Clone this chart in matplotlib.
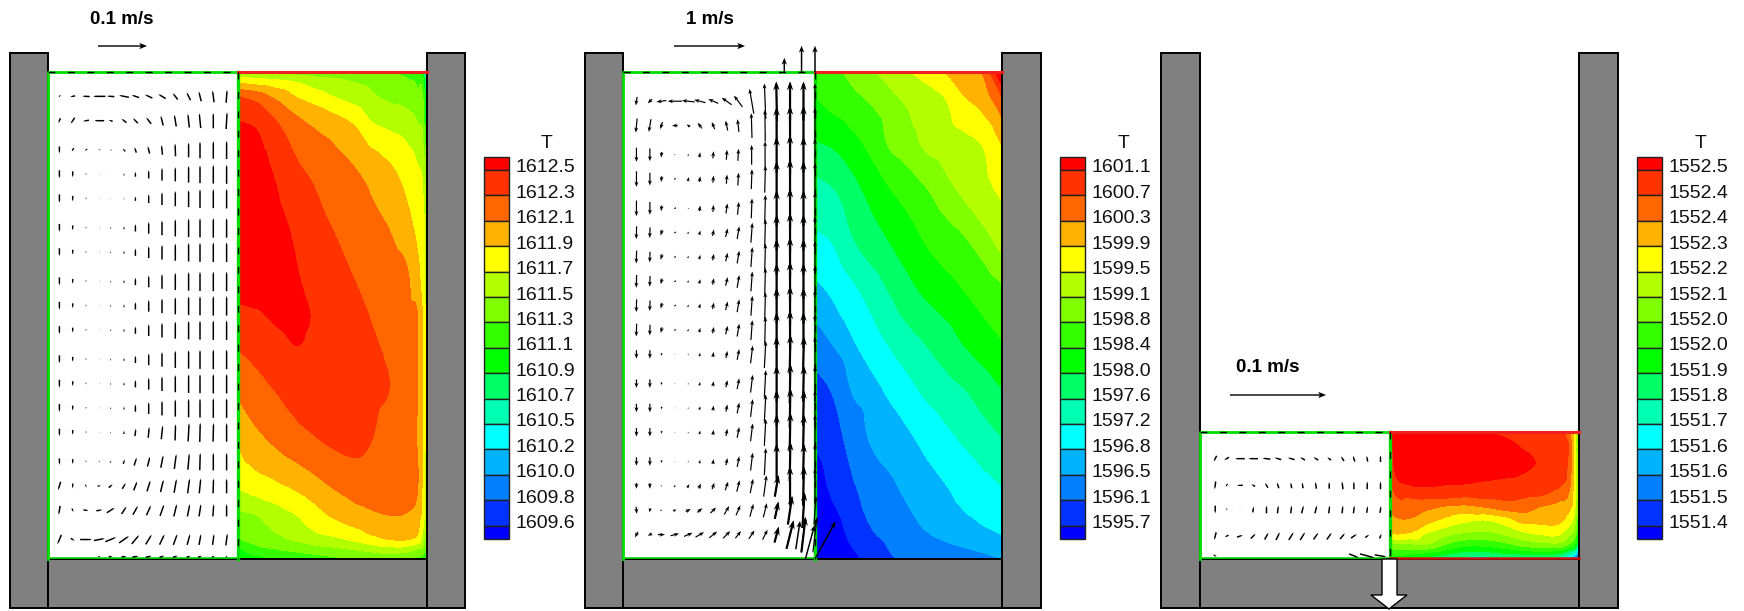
import numpy as np
import matplotlib
matplotlib.use('Agg')
import matplotlib.pyplot as plt
import matplotlib.tri as mtri
from matplotlib.patches import Polygon, Rectangle

plt.rcParams['font.family'] = ['Liberation Sans', 'DejaVu Sans']

# Colour bands, coldest first
band_colors = ['#0000ff', '#0033ff', '#0080ff', '#00b3ff', '#00ffff', '#00ffb3',
               '#00ff66', '#00ff00', '#33ff00', '#80ff00', '#b3ff00', '#ffff00',
               '#ffb300', '#ff6600', '#ff3300', '#ff0000']

# Legend labels, top to bottom
labels_1 = ['1612.5', '1612.3', '1612.1', '1611.9', '1611.7', '1611.5', '1611.3', '1611.1',
            '1610.9', '1610.7', '1610.5', '1610.2', '1610.0', '1609.8', '1609.6']
labels_2 = ['1601.1', '1600.7', '1600.3', '1599.9', '1599.5', '1599.1', '1598.8', '1598.4',
            '1598.0', '1597.6', '1597.2', '1596.8', '1596.5', '1596.1', '1595.7']
labels_3 = ['1552.5', '1552.4', '1552.4', '1552.3', '1552.2', '1552.1', '1552.0', '1552.0',
            '1551.9', '1551.8', '1551.7', '1551.6', '1551.6', '1551.5', '1551.4']

# Contour levels, ascending (the labels above are these, rounded)
levels_1 = [1609.6, 1609.8, 1610.0, 1610.2, 1610.5, 1610.7, 1610.9, 1611.1,
            1611.3, 1611.5, 1611.7, 1611.9, 1612.1, 1612.3, 1612.5]
levels_2 = [1595.7, 1596.1, 1596.5, 1596.8, 1597.2, 1597.6, 1598.0, 1598.4,
            1598.8, 1599.1, 1599.5, 1599.9, 1600.3, 1600.7, 1601.1]
levels_3 = [1551.40, 1551.48, 1551.56, 1551.64, 1551.71, 1551.79, 1551.87, 1551.95,
            1552.03, 1552.11, 1552.19, 1552.27, 1552.35, 1552.42, 1552.50]

# Temperature read off the right half of each panel
# columns: 0 = centre line, 1 = wall. rows: 1 = top, 0 = bottom
t1_cols = [0, .1, .2, .3, .4, .5, .6, .7, .8, .9, .95, .985, 1]
t1_rows = [1, .98, .95, .90, .80, .70, .60, .50, .44, .35, .25, .15, .09, .04, .015, 0]
t1 = 1600 + np.array([
    [11.5, 11.5, 11.5, 11.4, 11.4, 11.4, 11.4, 11.3, 11.3, 11.2, 11.1, 10.7, 9.8],
    [11.85, 11.8, 11.75, 11.7, 11.6, 11.55, 11.5, 11.45, 11.4, 11.33, 11.25, 11.0, 10.0],
    [12.3, 12.2, 12.05, 11.9, 11.8, 11.7, 11.62, 11.53, 11.46, 11.41, 11.33, 11.15, 10.3],
    [12.5, 12.45, 12.3, 12.15, 12.05, 11.97, 11.88, 11.7, 11.63, 11.57, 11.48, 11.25, 10.5],
    [12.62, 12.58, 12.47, 12.34, 12.26, 12.19, 12.12, 12.03, 11.93, 11.8, 11.72, 11.55, 11.1],
    [12.65, 12.62, 12.54, 12.46, 12.35, 12.28, 12.22, 12.14, 12.07, 11.93, 11.82, 11.7, 11.4],
    [12.62, 12.6, 12.56, 12.51, 12.43, 12.36, 12.29, 12.24, 12.18, 12.09, 11.93, 11.75, 11.45],
    [12.45, 12.48, 12.52, 12.53, 12.49, 12.42, 12.36, 12.295, 12.25, 12.15, 12.1, 11.78, 11.5],
    [12.32, 12.38, 12.45, 12.5, 12.47, 12.42, 12.37, 12.32, 12.27, 12.17, 12.1, 11.78, 11.5],
    [12.14, 12.23, 12.31, 12.37, 12.41, 12.42, 12.4, 12.35, 12.3, 12.2, 12.1, 11.78, 11.5],
    [11.94, 12.06, 12.15, 12.23, 12.29, 12.34, 12.36, 12.31, 12.22, 12.16, 12.08, 11.78, 11.5],
    [11.72, 11.8, 11.86, 11.93, 12.02, 12.11, 12.17, 12.2, 12.2, 12.17, 12.11, 11.75, 11.45],
    [11.45, 11.5, 11.6, 11.69, 11.8, 11.92, 12.0, 12.06, 12.1, 12.08, 12.0, 11.72, 11.4],
    [11.28, 11.36, 11.44, 11.52, 11.6, 11.65, 11.72, 11.82, 11.9, 11.9, 11.82, 11.5, 11.2],
    [11.0, 11.2, 11.25, 11.3, 11.35, 11.4, 11.45, 11.5, 11.55, 11.5, 11.4, 11.3, 11.0],
    [10.9, 11.0, 11.1, 11.15, 11.2, 11.25, 11.3, 11.35, 11.35, 11.3, 11.25, 11.1, 10.8],
])

t2_cols = [0, .1, .2, .3, .4, .5, .6, .7, .8, .9, 1]
t2_rows = [1, .95, .85, .75, .65, .55, .45, .35, .25, .15, .05, 0]
t2 = 1500 + np.array([
    [98.5, 98.7, 98.9, 99.05, 99.25, 99.48, 99.7, 99.92, 100.12, 100.35, 101.6],
    [98.4, 98.58, 98.72, 98.86, 99.02, 99.18, 99.33, 99.53, 99.9, 100.12, 100.7],
    [97.95, 98.04, 98.25, 98.5, 98.83, 98.98, 99.15, 99.26, 99.38, 99.52, 99.9],
    [97.4, 97.55, 97.82, 98.1, 98.35, 98.55, 98.76, 98.97, 99.15, 99.35, 99.55],
    [97.1, 97.22, 97.55, 97.8, 98.0, 98.2, 98.43, 98.6, 98.75, 98.95, 99.2],
    [96.7, 96.87, 97.1, 97.35, 97.62, 97.88, 98.08, 98.23, 98.4, 98.57, 98.73],
    [96.35, 96.55, 96.78, 97.03, 97.26, 97.47, 97.65, 97.83, 98.05, 98.23, 98.4],
    [95.95, 96.15, 96.53, 96.68, 96.87, 97.09, 97.3, 97.46, 97.6, 97.8, 98.0],
    [95.75, 95.95, 96.25, 96.54, 96.65, 96.75, 96.92, 97.1, 97.27, 97.43, 97.6],
    [95.5, 95.8, 96.05, 96.27, 96.44, 96.58, 96.68, 96.79, 96.93, 97.07, 97.2],
    [95.3, 95.5, 95.8, 96.05, 96.2, 96.35, 96.48, 96.57, 96.65, 96.72, 96.8],
    [95.2, 95.4, 95.6, 95.8, 96.05, 96.15, 96.22, 96.28, 96.35, 96.42, 96.5],
])

t3_cols = [0, .02, .1, .2, .3, .4, .5, .6, .7, .8, .9, .95, .98, 1]
t3_rows = [1, .9, .75, .6, .5, .4, .3, .2, .1, .05, 0]
t3 = 1500 + np.array([
    [52.42, 52.55, 52.6, 52.6, 52.58, 52.54, 52.5, 52.48, 52.47, 52.46, 52.44, 52.37, 52.2, 52.0],
    [52.45, 52.52, 52.6, 52.62, 52.6, 52.58, 52.56, 52.53, 52.49, 52.47, 52.45, 52.4, 52.2, 52.0],
    [52.42, 52.5, 52.6, 52.63, 52.62, 52.6, 52.58, 52.56, 52.52, 52.49, 52.45, 52.39, 52.2, 52.0],
    [52.4, 52.46, 52.51, 52.52, 52.51, 52.505, 52.49, 52.48, 52.47, 52.46, 52.43, 52.37, 52.2, 52.0],
    [52.33, 52.40, 52.43, 52.44, 52.44, 52.43, 52.44, 52.44, 52.43, 52.42, 52.38, 52.33, 52.2, 52.0],
    [52.3, 52.37, 52.38, 52.36, 52.33, 52.32, 52.34, 52.37, 52.38, 52.34, 52.31, 52.28, 52.18, 51.95],
    [52.31, 52.33, 52.34, 52.29, 52.24, 52.2, 52.18, 52.22, 52.29, 52.29, 52.28, 52.22, 52.12, 51.9],
    [52.25, 52.27, 52.26, 52.18, 52.13, 52.1, 52.09, 52.12, 52.17, 52.2, 52.2, 52.12, 52.05, 51.85],
    [52.05, 52.06, 52.07, 52.08, 52.0, 51.95, 51.95, 51.98, 52.03, 52.05, 52.05, 51.98, 51.9, 51.7],
    [51.98, 52.0, 51.98, 51.95, 51.9, 51.85, 51.85, 51.88, 51.9, 51.92, 51.88, 51.78, 51.7, 51.5],
    [51.9, 51.9, 51.85, 51.82, 51.78, 51.74, 51.73, 51.75, 51.78, 51.78, 51.72, 51.6, 51.5, 51.3],
])

# Velocity in cm/s on the left half of each panel
v1_cols = [.06, .13, .2, .27, .33, .40, .46, .53, .60, .67, .74, .80, .87, .94]
v1_rows = [.95, .90, .84, .79, .74, .68, .63, .57, .52, .47, .41, .36, .31, .26, .20, .15, .10, .04, .005]
v1_zero = [0] * 14
vx1 = [
    [-.4, -1, -1.5, -2.5, -1.5, -2, -1.5, -1.5, -1.5, -1, -.8, -.5, -.3, .2],
    [-.4, -.8, -1.2, -2, -.8, -1, -1, -1, -.5, -.4, -.3, -.3, 0, .2],
    [0, -.4, -.5, -.4, -.3, -.5, -.4, -.4, -.2, -.1, 0, 0, 0, 0],
    v1_zero, v1_zero, v1_zero, v1_zero, v1_zero, v1_zero, v1_zero, v1_zero, v1_zero, v1_zero,
    [0, 0, 0, 0, .1, .1, .2, .2, .3, .1, .2, .1, .1, 0],
    [0, 0, .1, .2, .3, .3, .5, .5, .5, .4, .3, .1, 0, 0],
    [-.5, 0, .3, .7, .8, .7, .7, .7, .6, .5, .4, .3, .1, 0],
    [-.3, .3, 1, 1.2, 1.6, 1, 1, .9, .8, .6, .5, .4, .2, 0],
    [-.8, .8, 2.4, 2.2, 2.2, 2, 1.5, 1.2, 1, .8, .6, .4, .3, .3],
    [0, 0, 0, .5, .8, 1, 1.2, 1.2, 1, 1, .8, .8, .6, .4],
]
v1_mid = [-1.6, -1, -.4, -.2, .4, .6, 1.5, 2.4, 3, 3.5, 3.8, 3.9, 4, 4]
vy1 = [
    [-.4, -.2, .1, 0, .1, .4, .5, .7, .9, 1.3, 1.6, 2, 2.4, 2.6],
    [-1, -1.2, -.2, 0, .3, .8, 1, 1.3, 2, 2.4, 2.8, 3, 3.1, 3.4],
    [-1.4, -.7, -.4, -.1, .2, .6, 1.1, 1.5, 2, 2.6, 3, 3.4, 3.6, 3.7],
    [-1.6, -1.2, -.4, -.2, -.1, .5, 1, 1.7, 2.6, 2.9, 3.4, 3.6, 3.8, 3.9],
    [-1.7, -1.1, -.4, -.2, -.2, .3, .9, 1.8, 2.6, 3.1, 3.5, 3.8, 3.9, 4],
    v1_mid, v1_mid, v1_mid, v1_mid, v1_mid, v1_mid, v1_mid, v1_mid,
    [-1.5, -1, -.4, -.2, .3, .7, 1.5, 2.2, 2.8, 3.3, 3.7, 3.9, 3.8, 3.8],
    [-1.3, -1, -.4, -.3, .4, .9, 1.6, 2, 2.5, 3, 3.3, 3.5, 3.6, 3.6],
    [-1.7, -1, -.5, .1, .7, 1.2, 1.8, 2.2, 2.5, 2.8, 3, 3, 3, 3],
    [-1.8, -.7, -.2, .2, 1, 1.5, 1.8, 2, 2.3, 2.5, 2.5, 2.5, 2.5, 2.5],
    [-1.9, -.5, 0, .4, .9, 1.4, 1.8, 2, 2.1, 2.2, 2.2, 2.2, 2.2, 2.4],
    [0, 0, 0, 0, 0, .1, .2, .3, .3, .3, .3, .3, .3, .3],
]

v2_cols = [.07, .14, .20, .27, .34, .40, .47, .54, .60, .67, .74, .80, .87, .94, 1.0]
v2_rows = [.94, .89, .83, .78, .72, .67, .62, .57, .52, .47, .42, .36, .31, .26, .20, .15, .10, .05]
v2_mid_x = [-.5, -.5, -2, -3, 2, 2, 2, 3, 3, 2, 1, 0, 0, 0, 0]
v2_low_x = [0, 0, -1, -1, 1, 1, 1, 2, 3, 3, 2, 0, 1, 1, 0]
vx2 = [
    [-2, -6, -14, -20, -18, -16, -14, -14, -12, -6, -2, -1, 0, 0, 0],
    [-2, -3, -3, -8, -5, -6, -4, -3, -2, -1, -.5, 0, 0, 0, 0],
    [0, 0, -1, 0, 1, 1, 1, 1, 1, 0, 0, 0, 0, 0, 0],
    [0, 0, -1, -2, 1, 1, 1, 1, 1, 1, 1, 0, 0, 0, 0],
    [0, 0, -1, -3, -2, 1, 1, 2, 2, 1, 1, 0, 0, 0, 0],
    v2_mid_x, v2_mid_x, v2_mid_x, v2_mid_x, v2_mid_x,
    v2_low_x, v2_low_x, v2_low_x, v2_low_x, v2_low_x,
    [0, 0, 1, 2, 3, 3, 3, 4, 4, 4, 4, 5, 0, 1, 0],
    [1, -1, 3, 5, 7, 7, 8, 7, 6, 5, 5, 5, 6, 3, 3],
    [-4, -6, 10, 12, 12, 12, 11, 10, 8, 8, 7, 6, 10, 6, 6],
]
v2_mid_y = [-18, -15, -8, -2, 3, 6, 9, 12, 18, 28, 38, 50, 55, 50, 45]
v2_low_y = [-12, -12, -4, -1, 2, 5, 7, 10, 15, 25, 38, 50, 55, 50, 50]
vy2 = [
    [-12, -6, -2, 0, 2, 4, 6, 10, 16, 35, 50, 55, 55, 55, 50],
    [-20, -18, -10, 0, 3, 8, 10, 14, 18, 35, 45, 52, 55, 55, 50],
    [-20, -18, -8, -2, 3, 7, 10, 14, 17, 28, 38, 50, 55, 50, 45],
    [-22, -18, -8, -3, 6, 8, 10, 13, 18, 28, 38, 50, 55, 50, 45],
    [-22, -18, -8, -2, 0, 8, 10, 14, 18, 28, 38, 50, 55, 50, 45],
    v2_mid_y, v2_mid_y, v2_mid_y, v2_mid_y, v2_mid_y,
    v2_low_y, v2_low_y, v2_low_y, v2_low_y, v2_low_y,
    [-8, -8, -2, 3, 5, 7, 9, 12, 16, 20, 30, 30, 55, 55, 50],
    [-10, -6, 0, 2, 4, 6, 8, 12, 14, 18, 20, 24, 40, 50, 40],
    [-8, -3, 0, 3, 5, 7, 9, 10, 10, 12, 14, 22, 40, 50, 50],
]
# Strong arrows of panel 2 at the top and bottom of the jet (tail position, then velocity)
jet_col = [.84, .93, 1.0, .95, 1.0, .90]
jet_row = [1.0, 1.0, 1.0, 0.0, 0.0, .02]
jet_vx = [0, 0, 0, 13, 29, 6]
jet_vy = [20, 37, 37, 48, 53, 40]

v3_cols = [.08, .14, .21, .28, .35, .41, .48, .54, .61, .68, .75, .81, .88, .95]
v3_rows = [.79, .58, .39, .18, .025]
vx3 = [
    [-.3, -.5, -1, -1, -.8, -.7, -.7, -.5, -.5, -.4, -.3, -.2, -.1, 0],
    [-.1, -.2, -.6, -.4, -.3, -.2, -.1, -.1, -.1, 0, -.1, 0, 0, 0],
    [0, -.1, -.1, .1, 0, .1, .1, .2, .2, .1, .1, .1, .1, .1],
    [-.2, -.4, .6, .5, .4, .4, .5, .5, .5, .5, .5, .6, .4, .2],
    [.3, 0, 0, 0, 0, 0, 0, 0, 0, 0, 0, 1, 1.5, 1.2],
]
vy3 = [
    [-.6, -.3, 0, 0, .1, .2, .2, .3, .3, .3, .5, .6, .6, .7],
    [-.8, -.3, 0, .2, .5, .6, .6, .6, .7, .7, .8, .8, .8, .8],
    [-.8, -.2, 0, .6, .8, .8, .8, .8, .8, .8, .8, .8, .7, .7],
    [-.8, -.2, .2, .5, .7, .8, .8, .8, .7, .7, .6, .4, .3, .5],
    [-.2, 0, 0, 0, 0, 0, 0, 0, 0, 0, 0, -.4, -.4, -.2],
]

# Panel geometry in image pixels
W, H = 1744, 611
panels = [
    dict(wall_l=10, inner_l=48, mid=238, inner_r=427, wall_r=465, top=72, bar_x=484,
         t_x=547, t=t1, t_cols=t1_cols, t_rows=t1_rows, levels=levels_1, labels=labels_1,
         v_cols=v1_cols, v_rows=v1_rows, vx=vx1, vy=vy1, px_per_cm=4.9, head=1.6, width=1.5,
         thick=[], key=(98, 46, 10), key_text='0.1 m/s', key_label=(122, 20)),
    dict(wall_l=585, inner_l=623, mid=815, inner_r=1002, wall_r=1041, top=72, bar_x=1060,
         t_x=1124, t=t2, t_cols=t2_cols, t_rows=t2_rows, levels=levels_2, labels=labels_2,
         v_cols=v2_cols, v_rows=v2_rows, vx=vx2, vy=vy2, px_per_cm=.71, head=3.4, width=1.2,
         thick=[11, 12, 13], key=(674, 46, 100), key_text='1 m/s', key_label=(710, 20)),
    dict(wall_l=1161, inner_l=1200, mid=1390, inner_r=1579, wall_r=1618, top=432, bar_x=1637,
         t_x=1701, t=t3, t_cols=t3_cols, t_rows=t3_rows, levels=levels_3, labels=labels_3,
         v_cols=v3_cols, v_rows=v3_rows, vx=vx3, vy=vy3, px_per_cm=9.6, head=1.6, width=1.5,
         thick=[], key=(1230, 395, 10), key_text='0.1 m/s', key_label=(1268, 368)),
]
WALL_TOP, BOTTOM, FLOOR = 53, 559, 608
BAR_TOP, BAR_BOTTOM, BAR_W, BAR_END, BAR_STEP = 157, 539, 25, 13, 25.4


def arrows(ax, x, y, dx, dy, pivot='mid', head=3.2, width=1.1):
    ax.quiver(x, y, dx, dy, angles='xy', scale_units='xy', scale=1, units='xy',
              width=width, headwidth=head, headlength=head + 1, headaxislength=head,
              minlength=.1, minshaft=1, pivot=pivot, color='black', zorder=6)


def draw_panel(ax, p):
    walls = [(p['wall_l'], WALL_TOP, p['inner_l'] - p['wall_l'], FLOOR - WALL_TOP),
             (p['inner_r'], WALL_TOP, p['wall_r'] - p['inner_r'], FLOOR - WALL_TOP),
             (p['inner_l'], BOTTOM, p['inner_r'] - p['inner_l'], FLOOR - BOTTOM)]
    for x, y, w, h in walls:
        ax.add_patch(Rectangle((x, y), w, h, facecolor='#808080', edgecolor='black',
                               linewidth=1.4, zorder=2))

    # temperature on the right half, contours smoothed by matplotlib's own refiner
    x = p['mid'] + np.array(p['t_cols']) * (p['inner_r'] - p['mid'])
    y = BOTTOM - np.array(p['t_rows']) * (BOTTOM - p['top'])
    gx, gy = np.meshgrid(x, y)
    tri = mtri.Triangulation(gx.ravel(), gy.ravel())
    z = p['t'].ravel()
    cubic = mtri.CubicTriInterpolator(tri, z, kind='geom')
    fine_tri, fine_t = mtri.UniformTriRefiner(tri).refine_field(z, triinterpolator=cubic, subdiv=3)
    ax.tricontourf(fine_tri, fine_t, levels=p['levels'], colors=band_colors, extend='both', zorder=1)

    # outline of the domain
    ax.plot([p['mid'], p['inner_l'], p['inner_l']], [p['top'], p['top'], BOTTOM],
            color='#00dd00', linewidth=2, zorder=3)
    ax.plot([p['inner_l'], p['mid']], [BOTTOM - 1, BOTTOM - 1], color='#00dd00', linewidth=1.2, zorder=3)
    ax.plot([p['mid'], p['mid']], [p['top'], BOTTOM], color='#00dd00', linewidth=2.4, zorder=3)
    ax.plot([p['inner_l'], p['mid']], [p['top'], p['top']], color='black', linewidth=1,
            dashes=(5, 9), zorder=4)
    ax.plot([p['mid'], p['mid']], [p['top'], BOTTOM], color='black', linewidth=1,
            dashes=(5, 9), zorder=4)
    ax.plot([p['mid'], p['inner_r']], [p['top'], p['top']], color='#ee2020', linewidth=2.2, zorder=3)

    # velocity on the left half
    vx = np.array(p['vx'], dtype=float) * p['px_per_cm']
    vy = np.array(p['vy'], dtype=float) * p['px_per_cm']
    col_x = p['inner_l'] + np.array(p['v_cols']) * (p['mid'] - p['inner_l'])
    row_y = BOTTOM - np.array(p['v_rows']) * (BOTTOM - p['top'])
    gx, gy = np.meshgrid(col_x, row_y)
    arrows(ax, gx, gy, vx, -vy, head=p['head'], width=p['width'])
    if p['thick']:
        k = p['thick']
        arrows(ax, gx[:, k], gy[:, k], vx[:, k], -vy[:, k], head=3, width=2.2)

    # velocity key
    kx, ky, kv = p['key']
    arrows(ax, [kx], [ky], [kv * p['px_per_cm']], [0], pivot='tail', head=4.5, width=1.4)
    ax.text(p['key_label'][0], p['key_label'][1], p['key_text'], fontsize=13.5,
            fontweight='bold', ha='center', va='center')

    # legend
    n = len(band_colors)
    for i, color in enumerate(band_colors[::-1]):
        top = BAR_TOP if i == 0 else BAR_TOP + BAR_END + (i - 1) * BAR_STEP
        end = BAR_BOTTOM if i == n - 1 else BAR_TOP + BAR_END + i * BAR_STEP
        ax.bar(p['bar_x'], end - top, width=BAR_W, bottom=top, align='edge', color=color,
               edgecolor='#222222', linewidth=1, zorder=2)
    for i, lab in enumerate(p['labels']):
        ax.text(p['bar_x'] + 31, BAR_TOP + BAR_END - 2 + i * BAR_STEP, lab, fontsize=14,
                ha='left', va='center', color='#111111')
    ax.text(p['t_x'], 143, 'T', fontsize=14, ha='center', va='center', color='#111111')


fig = plt.figure(figsize=(W / 100, H / 100), dpi=100)
ax = fig.add_axes([0, 0, 1, 1])
for p in panels:
    draw_panel(ax, p)

# Panel 2: jet arrows reaching past the domain
p2 = panels[1]
arrows(ax, p2['inner_l'] + np.array(jet_col) * (p2['mid'] - p2['inner_l']),
       BOTTOM - np.array(jet_row) * (BOTTOM - p2['top']),
       np.array(jet_vx) * p2['px_per_cm'], -np.array(jet_vy) * p2['px_per_cm'],
       pivot='tail', head=3.6, width=1.5)

# Panel 3: outlet arrow through the floor and hot bottom line
p3 = panels[2]
ax.plot([p3['mid'], p3['inner_r']], [BOTTOM - 1, BOTTOM - 1], color='#cc1111', linewidth=1.8, zorder=3)
ax.add_patch(Polygon([(1382, 559), (1397, 559), (1397, 595), (1407, 595), (1389, 609),
                      (1371, 595), (1382, 595)], facecolor='white', edgecolor='black',
                     linewidth=1, zorder=5))

ax.set_xlim(0, W)
ax.set_ylim(H, 0)
ax.axis('off')
fig.savefig('out.png', dpi=100, facecolor='white')
